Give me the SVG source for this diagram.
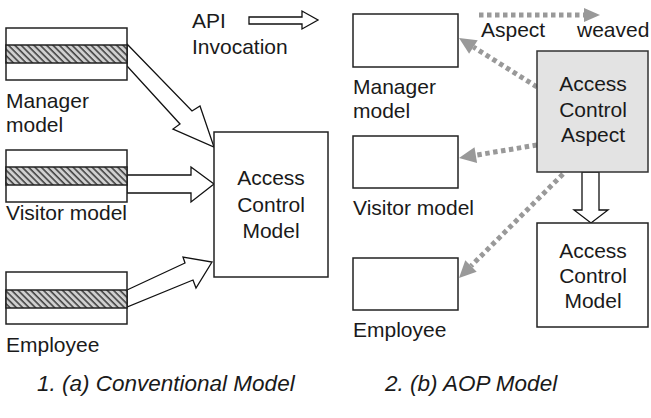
<svg xmlns="http://www.w3.org/2000/svg" width="651" height="418" viewBox="0 0 651 418">
<defs>
<pattern id="hatch" patternUnits="userSpaceOnUse" width="4.5" height="4.5" patternTransform="rotate(-45)">
<rect width="4.5" height="4.5" fill="#d0d0d0"/>
<line x1="1" y1="0" x2="1" y2="4.5" stroke="#3a3a3a" stroke-width="1.5"/>
</pattern>
</defs>
<style>
.box{fill:#fff;stroke:#222;stroke-width:1.5}
.band{fill:url(#hatch);stroke:#222;stroke-width:1.5}
.aspect{fill:#e3e3e3;stroke:#333;stroke-width:1.5}
.blk{fill:#fff;stroke:#111;stroke-width:1.3;stroke-linejoin:miter}
.dot{fill:none;stroke:#999;stroke-width:5;stroke-dasharray:4.5 3.5}
.head{fill:#999;stroke:none}
text{font-family:"Liberation Sans",Arial,Helvetica,sans-serif;font-size:21px;fill:#1a1a1a}
.c{text-anchor:middle}
.cap{font-style:italic;font-size:22.5px}
</style>
<rect width="651" height="418" fill="#fff"/>

<g id="connectors">
<polygon class="blk" points="127,44 192,111 200,106 214,147 173,129 180,124 127,66"/>
<polygon class="blk" points="127,175 191,175 191,167 214,184 191,202 191,193 127,193"/>
<polygon class="blk" points="127,290 185,263 183,257 212,262 196,288 193,280 127,307"/>
<polygon class="blk" points="582,172 599,172 599,210 608,210 591,223 574,210 582,210"/>
<line class="dot" x1="537" y1="87" x2="473.4" y2="47"/>
<polygon class="head" points="459,38 477.7,40.2 469.1,53.8"/>
<line class="dot" x1="537" y1="145" x2="475.8" y2="155.2"/>
<polygon class="head" points="459,158 474.5,147.3 477.1,163.1"/>
<line class="dot" x1="563" y1="174" x2="471" y2="266"/>
<polygon class="head" points="459,278 465.3,260.3 476.7,271.7"/>
</g>

<g id="legend">
<text x="192" y="28">API</text>
<text x="192" y="54">Invocation</text>
<polygon class="blk" points="249,17 302,17 302,11 318,20 302,29 302,24 249,24"/>
<line class="dot" x1="479" y1="15" x2="584" y2="15"/>
<polygon class="head" points="584,8 600,15 584,22"/>
<text x="481" y="37">Aspect</text>
<text x="577" y="37">weaved</text>
</g>

<g id="left-manager">
<rect class="box" x="6" y="28" width="121" height="52"/>
<rect class="band" x="6" y="45" width="121" height="18"/>
<text x="6" y="108">Manager</text>
<text x="6" y="132">model</text>
</g>
<g id="left-visitor">
<rect class="box" x="6" y="150" width="121" height="52"/>
<rect class="band" x="6" y="167" width="121" height="18"/>
<text x="6" y="220">Visitor model</text>
</g>
<g id="left-employee">
<rect class="box" x="6" y="272" width="121" height="52"/>
<rect class="band" x="6" y="290" width="121" height="18"/>
<text x="6" y="352">Employee</text>
</g>
<g id="left-acm">
<rect class="box" x="214" y="132" width="114" height="145"/>
<text class="c" x="271" y="185">Access</text>
<text class="c" x="271" y="212">Control</text>
<text class="c" x="271" y="238">Model</text>
</g>

<g id="right-manager">
<rect class="box" x="353" y="14" width="105" height="53"/>
<text x="353" y="94">Manager</text>
<text x="353" y="118">model</text>
</g>
<g id="right-visitor">
<rect class="box" x="353" y="136" width="105" height="52"/>
<text x="353" y="215">Visitor model</text>
</g>
<g id="right-employee">
<rect class="box" x="353" y="258" width="105" height="52"/>
<text x="353" y="337">Employee</text>
</g>
<g id="aspect">
<rect class="aspect" x="537" y="51" width="111" height="121"/>
<text class="c" x="593" y="91">Access</text>
<text class="c" x="593" y="117">Control</text>
<text class="c" x="593" y="142">Aspect</text>
</g>
<g id="right-acm">
<rect class="box" x="537" y="223" width="111" height="104"/>
<text class="c" x="593" y="258">Access</text>
<text class="c" x="593" y="283">Control</text>
<text class="c" x="593" y="308">Model</text>
</g>

<g id="captions">
<text class="cap" x="37" y="391">1. (a) Conventional Model</text>
<text class="cap" x="385" y="391">2. (b) AOP Model</text>
</g>
</svg>
